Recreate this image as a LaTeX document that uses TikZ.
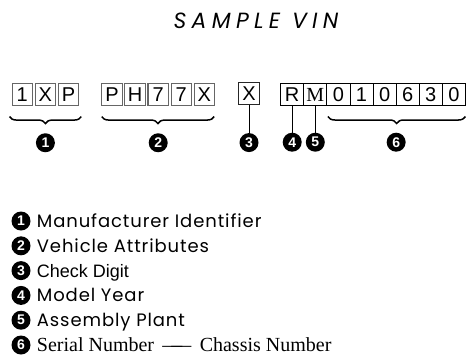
\documentclass[tikz,border=0pt]{standalone}
\usepackage{fontspec}
\setmainfont{Liberation Sans}
\newfontfamily\geofont{Poppins}
\newfontfamily\timesfont{Liberation Serif}
\usetikzlibrary{positioning,calc,decorations.pathreplacing}

\begin{document}
\begin{tikzpicture}[
    x=1bp, y=-1bp,
    cell/.style={
      draw=black!60, line width=1.1bp, minimum width=20.5bp,
      minimum height=22bp, inner sep=0pt, text height=14bp, text depth=0pt,
      font=\fontsize{20bp}{20bp}\selectfont
    },
    stripcell/.style={cell, draw=black, line width=0.8bp, outer sep=0pt,
      minimum width=23.1bp},
    num/.style={circle, fill=black, text=white, minimum size=19bp,
      inner sep=0pt, font=\fontsize{14bp}{14bp}\selectfont\bfseries},
    tick/.style={line width=0.8bp},
    vbrace/.style={decorate, decoration={brace, amplitude=7bp},
      line width=1.5bp},
    legend/.style={anchor=west, inner sep=0pt, text height=13bp,
      text depth=0pt,
      font=\fontsize{18bp}{20bp}\geofont\addfontfeatures{LetterSpace=5}},
    checklabel/.style={legend, text height=13bp,
      font=\fontsize{18bp}{20bp}\selectfont},
    seriallabel/.style={legend, text height=13bp,
      font=\fontsize{20bp}{21bp}\timesfont},
    titlestyle/.style={
      font=\fontsize{22bp}{23bp}\geofont\itshape\addfontfeatures{LetterSpace=24}},
  ]
  \useasboundingbox (0,0) rectangle (466,356);

  % Title
  \node[titlestyle] (title) at (256,21) {SAMPLE VIN};

  % --- WMI ---
  \node[cell] (a1) at (22.3,94.5) {1};
  \node[cell, right=1.5bp of a1] (a2) {X};
  \node[cell, right=1.5bp of a2] (a3) {P};

  % --- VDS ---
  \node[cell] (b1) at (112,94.5) {P};
  \node[cell, right=1.5bp of b1] (b2) {H};
  \node[cell, right=1.5bp of b2] (b3) {7};
  \node[cell, right=1.5bp of b3] (b4) {7};
  \node[cell, right=1.5bp of b4] (b5) {X};

  % --- Check digit ---
  \node[cell, draw=black!85, line width=0.7bp] (chk) at (249,93.5) {X};

  % --- VIS strip ---
  \node[stripcell] (s1) at (292.2,94.5) {R};
  \node[stripcell, right=0bp of s1, text height=13bp] (s2) {\timesfont M};
  \node[stripcell, right=0bp of s2] (s3) {0};
  \node[stripcell, right=0bp of s3] (s4) {1};
  \node[stripcell, right=0bp of s4] (s5) {0};
  \node[stripcell, right=0bp of s5] (s6) {6};
  \node[stripcell, right=0bp of s6] (s7) {3};
  \node[stripcell, right=0bp of s7] (s8) {0};

  % Braces
  \draw[vbrace] ($(a3.south east)+(2,10.5)$) -- ($(a1.south west)+(-2,10.5)$);
  \draw[vbrace] ($(b5.south east)+(-1,10.5)$) -- ($(b1.south west)+(0.5,10.5)$);
  \draw[vbrace] ($(s8.south east)+(0,11)$) -- ($(s3.south west)+(1,11)$);

  % Section numbers
  \coordinate (m6) at ($(s5.south)!0.5!(s6.south)$);
  \node[num, below=27bp of a2] (n1) {1};
  \node[num, below=27bp of b3] (n2) {2};
  \node[num, below=28bp of chk] (n3) {3};
  \node[num, below=27bp of s1] (n4) {4};
  \node[num, below=27bp of s2] (n5) {5};
  \node[num, below=27bp of m6] (n6) {6};

  \foreach \a/\b in {chk/n3, s1/n4, s2/n5}
    \draw[tick] (\a) -- (\b);

  % --- Legend ---
  \node[num] (l1) at (21,221) {1};
  \node[num, below=5.4bp of l1] (l2) {2};
  \node[num, below=5.4bp of l2] (l3) {3};
  \node[num, below=5.4bp of l3] (l4) {4};
  \node[num, below=5.4bp of l4] (l5) {5};
  \node[num, below=5.4bp of l5] (l6) {6};

  \node[legend, right=6bp of l1] (t1) {Manufacturer Identifier};
  \node[legend, right=6bp of l2] (t2) {Vehicle Attributes};
  \node[checklabel, right=6bp of l3] (t3) {Check Digit};
  \node[legend, right=6bp of l4] (t4) {Model Year};
  \node[legend, right=6bp of l5] (t5) {Assembly Plant};
  \node[seriallabel, right=6bp of l6] (t6)
    {Serial Number \,—\kern-0.55em—\, Chassis Number};

\end{tikzpicture}
\end{document}
